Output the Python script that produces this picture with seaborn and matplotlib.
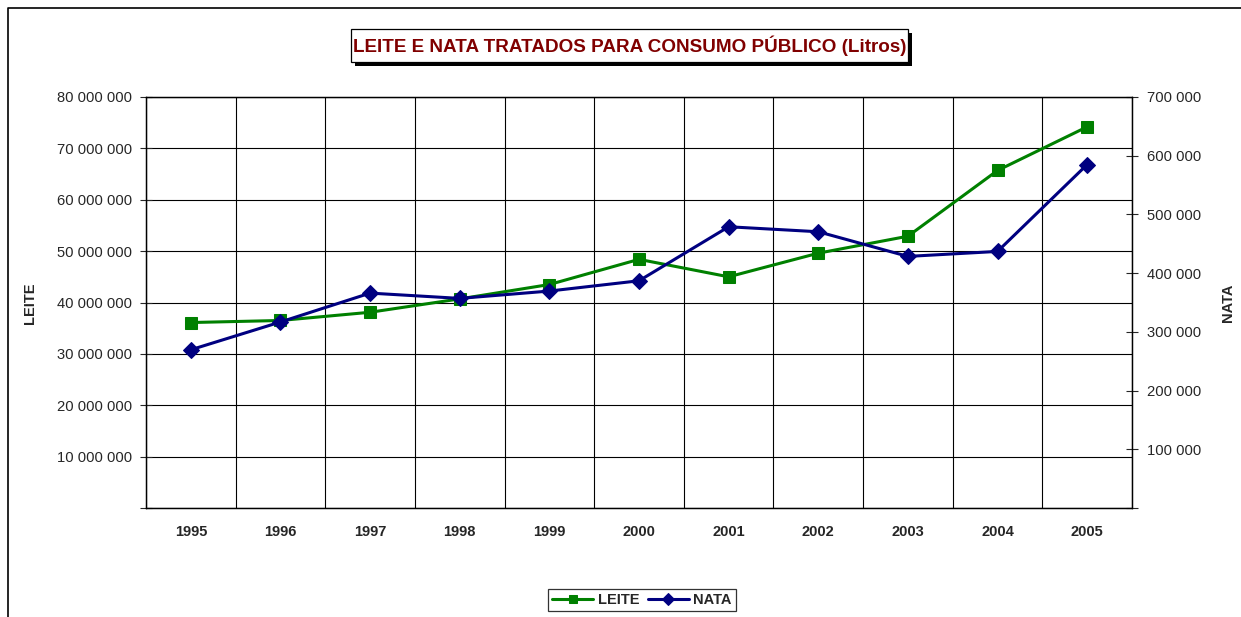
import pandas as pd
import numpy as np
import matplotlib
matplotlib.use("Agg")
import matplotlib.pyplot as plt
import seaborn as sns
from matplotlib.ticker import FuncFormatter, MultipleLocator, FixedLocator
from matplotlib.patches import Rectangle
from matplotlib.lines import Line2D

# dados (litros)
anos = ['1995', '1996', '1997', '1998', '1999', '2000', '2001', '2002', '2003', '2004', '2005']
leite = [36.1e6, 36.5e6, 38.1e6, 40.7e6, 43.5e6, 48.4e6, 45.0e6, 49.6e6, 52.9e6, 65.7e6, 74.2e6]
nata = [269500, 316800, 366000, 357000, 369500, 387000, 479000, 470500, 428500, 437000, 585000]

df = pd.DataFrame({'ano': anos, 'LEITE': leite, 'NATA': nata})

sns.set_style('white')
plt.rcParams['font.family'] = ['Liberation Sans', 'DejaVu Sans']

W, H = 1241, 617
fig = plt.figure(figsize=(W / 100, H / 100), dpi=100)
ax = fig.add_axes([146 / W, 1 - 508 / H, (1132 - 146) / W, (508 - 97) / H])
ax2 = ax.twinx()

verde = '#008000'
azul = '#000080'

sns.lineplot(data=df, x='ano', y='LEITE', ax=ax, color=verde, lw=2.2,
             marker='s', markersize=8, markeredgecolor=verde, sort=False, label='LEITE', legend=False)
sns.lineplot(data=df, x='ano', y='NATA', ax=ax2, color=azul, lw=2.2,
             marker='D', markersize=8, markeredgecolor=azul, sort=False, label='NATA', legend=False)

fmt = FuncFormatter(lambda v, p: '' if v == 0 else f'{int(round(v)):,}'.replace(',', ' '))

ax.set_xlim(-0.5, len(anos) - 0.5)
ax.set_ylim(0, 80e6)
ax.yaxis.set_major_locator(MultipleLocator(10e6))
ax.yaxis.set_major_formatter(fmt)
ax2.set_ylim(0, 700000)
ax2.yaxis.set_major_locator(MultipleLocator(100000))
ax2.yaxis.set_major_formatter(fmt)

ax.set_xticks(range(len(anos)))
ax.set_xticklabels(anos, fontweight='bold', fontsize=10.5)
ax.xaxis.set_minor_locator(FixedLocator(np.arange(-0.5, len(anos), 1)))
ax.tick_params(axis='x', which='major', length=0, pad=12)
ax.tick_params(axis='x', which='minor', length=8, direction='inout', width=0.8, color='black')
ax.tick_params(axis='y', length=8, direction='inout', width=0.8, labelsize=10.6, pad=6, left=True)
ax2.tick_params(axis='y', length=8, direction='inout', width=0.8, labelsize=10.6, pad=7, right=True)

ax.grid(True, which='major', axis='y', color='black', lw=0.8)
ax.grid(True, which='minor', axis='x', color='black', lw=0.8)
ax.set_axisbelow(True)

for a in (ax, ax2):
    for s in a.spines.values():
        s.set_color('black')
        s.set_linewidth(0.9)

ax.set_xlabel('')
ax.set_ylabel('')
ax2.set_ylabel('')
# titulos dos eixos
fig.text(30 / W, 1 - 303 / H, 'LEITE', rotation=90, ha='center', va='center',
         fontweight='bold', fontsize=10.5)
fig.text(1228 / W, 1 - 303 / H, 'NATA', rotation=90, ha='center', va='center',
         fontweight='bold', fontsize=10.5)

# legenda em baixo
h1, l1 = ax.get_legend_handles_labels()
h2, l2 = ax2.get_legend_handles_labels()
leg = fig.legend(h1 + h2, l1 + l2, loc='center', bbox_to_anchor=(642 / W, 1 - 600 / H),
                 ncol=2, frameon=True, fancybox=False, edgecolor='black',
                 prop={'weight': 'bold', 'size': 10.5}, handlelength=2.8, columnspacing=0.6,
                 handletextpad=0.3, borderpad=0.3, markerscale=0.8)
leg.get_frame().set_linewidth(0.9)

# caixa do titulo com sombra
x0, y0, x1, y1 = 351, 29, 908, 62
fig.add_artist(Rectangle(((x0 + 4) / W, 1 - (y1 + 4) / H), (x1 - x0) / W, (y1 - y0) / H,
                         transform=fig.transFigure, facecolor='black', edgecolor='none'))
fig.add_artist(Rectangle((x0 / W, 1 - y1 / H), (x1 - x0) / W, (y1 - y0) / H,
                         transform=fig.transFigure, facecolor='white', edgecolor='black', lw=0.9))
fig.text((x0 + x1) / 2 / W, 1 - (y0 + y1) / 2 / H, 'LEITE E NATA TRATADOS PARA CONSUMO PÚBLICO (Litros)',
         ha='center', va='center', fontsize=13.6, fontweight='bold', color='#800000')

# moldura do grafico
fig.add_artist(Line2D([8 / W, 8 / W, 1.0], [0.0, 1 - 8 / H, 1 - 8 / H],
                      transform=fig.transFigure, color='black', lw=1.2))

fig.savefig('out.png', dpi=100)
